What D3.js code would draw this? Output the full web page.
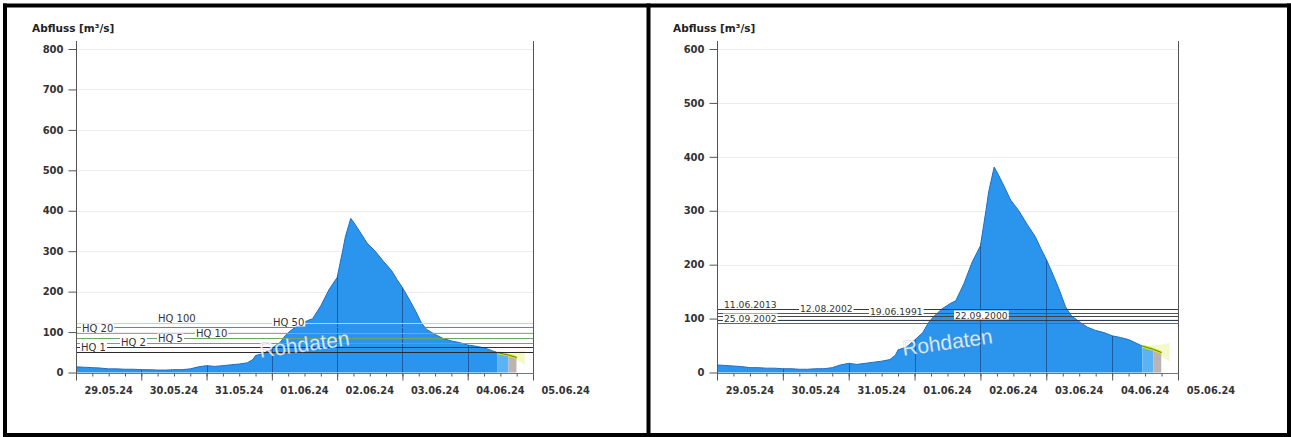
<!DOCTYPE html>
<html>
<head>
<meta charset="utf-8">
<script src="https://cdn.jsdelivr.net/npm/d3@7"></script>
<style>
  html, body { margin: 0; padding: 0; background: #fff; }
  svg { display: block; }
</style>
</head>
<body>
<svg id="chart" width="1291" height="437"></svg>
<script>
// ---- Abfluss time series (m³/s) ----
const times = [
  "2024-05-29T00:00","2024-05-29T03:00","2024-05-29T06:00","2024-05-29T09:00",
  "2024-05-29T12:00","2024-05-29T15:00","2024-05-29T18:00","2024-05-29T21:00",
  "2024-05-30T00:00","2024-05-30T03:00","2024-05-30T06:00","2024-05-30T09:00",
  "2024-05-30T12:00","2024-05-30T15:00","2024-05-30T18:00","2024-05-30T21:00",
  "2024-05-31T00:00","2024-05-31T03:00","2024-05-31T06:00","2024-05-31T09:00",
  "2024-05-31T12:00","2024-05-31T15:00","2024-05-31T17:00","2024-05-31T18:00",
  "2024-05-31T21:00","2024-06-01T00:00","2024-06-01T03:00","2024-06-01T05:00",
  "2024-06-01T07:00","2024-06-01T10:00","2024-06-01T13:00","2024-06-01T15:00",
  "2024-06-01T18:00","2024-06-01T21:00","2024-06-02T00:00","2024-06-02T02:00",
  "2024-06-02T03:00","2024-06-02T05:00","2024-06-02T06:00","2024-06-02T08:00",
  "2024-06-02T11:00","2024-06-02T14:00","2024-06-02T17:00","2024-06-02T20:00",
  "2024-06-02T22:00","2024-06-03T00:00","2024-06-03T03:00","2024-06-03T05:00",
  "2024-06-03T07:00","2024-06-03T09:00","2024-06-03T12:00","2024-06-03T15:00",
  "2024-06-03T18:00","2024-06-03T21:00","2024-06-04T00:00","2024-06-04T03:00",
  "2024-06-04T06:00","2024-06-04T09:00","2024-06-04T11:00","2024-06-04T13:00",
  "2024-06-04T15:00","2024-06-04T18:00"
];
const flow = [
  14, 13, 12, 11,
  9, 9, 8, 8,
  7, 7, 6, 6,
  7, 7, 9, 14,
  17, 15, 17, 19,
  21, 24, 32, 42,
  47, 60, 74, 92,
  104, 118, 128, 133,
  165, 205, 235, 300,
  335, 381, 372, 352,
  320, 300, 275, 252,
  230, 210, 175, 150,
  122, 106, 94, 84,
  78, 74, 68, 65,
  61, 54, 49, 46,
  43, 37
];

// data status boundaries: checked / provisional / raw
const statusNames = ["geprüft", "vorläufig", "Rohdaten"];
const statusEnds  = ["2024-06-04T11:00", "2024-06-04T15:00", "2024-06-04T18:00"];

// short-term forecast band
const forecastTimes = ["2024-06-04T11:00", "2024-06-04T15:00", "2024-06-04T18:00", "2024-06-04T21:00"];
const forecastLow   = [49, 40, 30, 20];
const forecastHigh  = [49, 50, 52, 55];

// flood statistics (left chart)
const hqLabels = ["HQ 1", "HQ 2", "HQ 5", "HQ 10", "HQ 20", "HQ 50", "HQ 100"];
const hqValues = [51, 62, 74, 85, 98, 113, 123];

// historic flood events (right chart)
const eventLabels = ["11.06.2013", "12.08.2002", "19.06.1991", "22.09.2000", "25.09.2002"];
const eventValues = [117, 110, 104, 98, 91];

// axes
const leftYTicks  = [0, 100, 200, 300, 400, 500, 600, 700, 800];
const rightYTicks = [0, 100, 200, 300, 400, 500, 600];
const dayTicks    = ["29.05.24","30.05.24","31.05.24","01.06.24","02.06.24","03.06.24","04.06.24","05.06.24"];
const yTitle = "Abfluss [m³/s]";
const watermark = "Rohdaten";

// ---------------------------------------------------------------
const parseT = d3.timeParse("%Y-%m-%dT%H:%M");
const parseDay = d3.timeParse("%d.%m.%y");
const series = times.map((t, i) => ({ t: parseT(t), v: flow[i] }));
const days = dayTicks.map(parseDay);
const svg = d3.select("#chart");

const FONT = "'DejaVu Sans', Verdana, sans-serif";

function drawPanel(cfg) {
  const g = svg.append("g");
  const x = d3.scaleTime().domain([days[0], days[days.length - 1]]).range([cfg.x0, cfg.x1]);
  const y = d3.scaleLinear().domain([0, cfg.yMax]).range([372.5, 49]);
  const yTop = 41;

  // title
  g.append("text").attr("x", cfg.titleX).attr("y", 32)
    .attr("font-family", FONT).attr("font-weight", "bold").attr("font-size", 10.5)
    .attr("fill", "#222").text(yTitle);

  // horizontal grid
  g.append("g").selectAll("line").data(cfg.yTicks.slice(1)).join("line")
    .attr("x1", cfg.x0).attr("x2", cfg.x1)
    .attr("y1", d => Math.round(y(d)) + 0.5).attr("y2", d => Math.round(y(d)) + 0.5)
    .attr("stroke", "#ededed").attr("stroke-width", 1);

  // forecast band
  const fc = forecastTimes.map((t, i) => ({ t: parseT(t), lo: forecastLow[i], hi: forecastHigh[i] }));
  g.append("path").datum(fc)
    .attr("d", d3.area().x(d => x(d.t)).y0(d => y(d.lo)).y1(d => y(d.hi)))
    .attr("fill", "#f3f7c4").attr("opacity", 0.9);

  // discharge area, coloured by data status
  const area = d3.area().x(d => x(d.t)).y0(y(0)).y1(d => y(d.v));
  const fills = ["#2b95ee", "#5cb2f2", "#bdb3b3"];
  let start = days[0];
  statusEnds.forEach((e, i) => {
    const end = parseT(e);
    const id = `${cfg.id}-seg${i}`;
    g.append("clipPath").attr("id", id).append("rect")
      .attr("x", x(start)).attr("width", x(end) - x(start))
      .attr("y", 0).attr("height", 437);
    g.append("path").datum(series)
      .attr("d", area).attr("fill", fills[i]).attr("clip-path", `url(#${id})`);
    start = end;
  });
  // outline
  g.append("path").datum(series.filter(d => d.t <= parseT(statusEnds[0])))
    .attr("d", d3.line().x(d => x(d.t)).y(d => y(d.v)))
    .attr("fill", "none").attr("stroke", "#1d6fc4").attr("stroke-width", 1);

  // day separators inside the discharge area
  const areaClip = `${cfg.id}-area`;
  g.append("clipPath").attr("id", areaClip).append("path").datum(series).attr("d", area);
  g.append("g").attr("clip-path", `url(#${areaClip})`)
    .selectAll("line").data(days.slice(1, -1)).join("line")
    .attr("x1", d => Math.round(x(d)) + 0.5).attr("x2", d => Math.round(x(d)) + 0.5)
    .attr("y1", yTop).attr("y2", y(0))
    .attr("stroke", "#1b5c9e").attr("stroke-width", 1);

  // forecast line
  const fLine = series.filter(d => d.t >= parseT(statusEnds[0]));
  g.append("path").datum(fLine)
    .attr("d", d3.line().x(d => x(d.t)).y(d => y(d.v)))
    .attr("fill", "none").attr("stroke", "#d4ec1a").attr("stroke-width", 3);
  g.append("path").datum(fLine)
    .attr("d", d3.line().x(d => x(d.t)).y(d => y(d.v)))
    .attr("fill", "none").attr("stroke", "#5f7d10").attr("stroke-width", 1);

  // threshold lines with labels
  const th = cfg.values.map((v, i) => ({ v, label: cfg.labels[i], color: cfg.colors[i], lx: cfg.labelX[i] }));
  g.append("g").selectAll("line").data(th).join("line")
    .attr("x1", cfg.x0).attr("x2", cfg.x1)
    .attr("y1", d => Math.round(y(d.v)) + 0.5).attr("y2", d => Math.round(y(d.v)) + 0.5)
    .attr("stroke", d => d.color).attr("stroke-width", 1);
  const lab = g.append("g").selectAll("g").data(th).join("g");
  lab.append("text")
    .attr("x", d => d.lx).attr("y", d => Math.round(y(d.v)) - 1.5)
    .attr("font-family", FONT).attr("font-size", cfg.labelSize)
    .attr("fill", "#333").text(d => d.label);
  lab.each(function () {
    const t = d3.select(this).select("text");
    const b = t.node().getBBox();
    d3.select(this).insert("rect", "text")
      .attr("x", b.x - 1).attr("y", b.y + 1).attr("width", b.width + 2).attr("height", b.height - 2)
      .attr("fill", "#fff");
  });

  // watermark
  g.append("text")
    .attr("transform", `translate(${(cfg.x0 + cfg.x1) / 2},${cfg.wmY}) rotate(-8)`)
    .attr("text-anchor", "middle").attr("dominant-baseline", "middle")
    .attr("font-family", "'Liberation Sans', Arial, sans-serif").attr("font-size", 21)
    .attr("fill", "#fff").attr("fill-opacity", 0.85)
    .attr("stroke", "#9aa4ad").attr("stroke-width", 0.4).attr("stroke-opacity", 0.6)
    .text(watermark);

  // frame lines (y axis and right border)
  g.append("line").attr("x1", cfg.x0 + 0.5).attr("x2", cfg.x0 + 0.5).attr("y1", yTop).attr("y2", y(0) + 1)
    .attr("stroke", "#555");
  g.append("line").attr("x1", cfg.x1 + 0.5).attr("x2", cfg.x1 + 0.5).attr("y1", yTop).attr("y2", y(0) + 1)
    .attr("stroke", "#555");
  g.append("line").attr("x1", cfg.x0).attr("x2", cfg.x1 + 1).attr("y1", Math.round(y(0)) + 0.5).attr("y2", Math.round(y(0)) + 0.5)
    .attr("stroke", "#777");

  // y axis
  const yAxis = d3.axisLeft(y).tickValues(cfg.yTicks).tickSize(8).tickPadding(5).tickFormat(d3.format("d"));
  const ya = g.append("g").attr("transform", `translate(${cfg.x0 + 0.5},0)`).call(yAxis);
  ya.select(".domain").remove();
  ya.selectAll("line").attr("stroke", "#555");
  ya.selectAll("text").attr("font-family", FONT).attr("font-weight", "bold")
    .attr("font-size", 10).attr("fill", "#333");

  // x axis: day ticks, 6-hourly minor ticks, labels at midday
  const xa = g.append("g").attr("transform", `translate(0,${Math.round(y(0)) + 0.5})`);
  const minor = d3.timeHour.every(6).range(days[0], days[days.length - 1]);
  xa.call(d3.axisBottom(x).tickValues(minor).tickSize(3).tickFormat(""));
  xa.select(".domain").remove();
  xa.selectAll("line").attr("stroke", "#555");
  const xb = g.append("g").attr("transform", `translate(0,${Math.round(y(0)) + 0.5})`);
  xb.call(d3.axisBottom(x).tickValues(days).tickSize(7).tickFormat(""));
  xb.select(".domain").remove();
  xb.selectAll("line").attr("stroke", "#555");
  g.append("g").selectAll("text").data(days).join("text")
    .attr("x", d => x(d3.timeHour.offset(d, 12))).attr("y", 394)
    .attr("text-anchor", "middle")
    .attr("font-family", FONT).attr("font-weight", "bold").attr("font-size", 9.8)
    .attr("fill", "#333").text((d, i) => dayTicks[i]);
}

drawPanel({
  id: "hq", x0: 76, x1: 533, yMax: 800, yTicks: leftYTicks, titleX: 32, wmY: 346,
  values: hqValues, labels: hqLabels, labelSize: 10,
  colors: ["#2a2a2a", "#1f3566", "#8f8f8f", "#6aa86a", "#7dbb6a", "#4f9f4f", "#efc98e"],
  labelX: [81, 121, 158, 196, 82, 273, 158]
});
drawPanel({
  id: "ev", x0: 717, x1: 1178, yMax: 600, yTicks: rightYTicks, titleX: 673, wmY: 344,
  values: eventValues, labels: eventLabels, labelSize: 9.2,
  colors: ["#3a3a3a", "#555", "#444", "#2c3d5a", "#666"],
  labelX: [724, 800, 870, 955, 724]
});

// outer frames
const frame = svg.append("g").attr("fill", "none").attr("stroke", "#000").attr("stroke-width", 4);
frame.append("line").attr("x1", 3).attr("x2", 1291).attr("y1", 5.5).attr("y2", 5.5);
frame.append("line").attr("x1", 3).attr("x2", 1291).attr("y1", 435).attr("y2", 435);
frame.append("line").attr("x1", 5).attr("x2", 5).attr("y1", 3.5).attr("y2", 437);
frame.append("line").attr("x1", 648.5).attr("x2", 648.5).attr("y1", 3.5).attr("y2", 437);
frame.append("line").attr("x1", 1289).attr("x2", 1289).attr("y1", 3.5).attr("y2", 437);
</script>
</body>
</html>
